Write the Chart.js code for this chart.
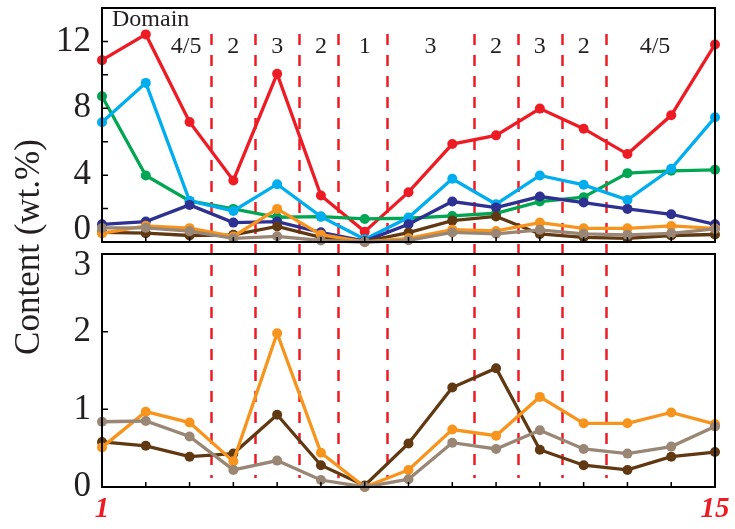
<!DOCTYPE html>
<html>
<head>
<meta charset="utf-8">
<script src="https://cdn.jsdelivr.net/npm/chart.js@4.4.0/dist/chart.umd.min.js"></script>
<style>
  html, body { margin: 0; padding: 0; background: #fff; }
  #wrap { position: relative; width: 735px; height: 529px; }
  #wrap canvas { position: absolute; left: 0; top: 0; }
</style>
</head>
<body>
<div id="wrap">
  <canvas id="topChart" width="735" height="529"></canvas>
  <canvas id="bottomChart" width="735" height="529"></canvas>
</div>
<script>
// positions along the profile
const positions = [1, 2, 3, 4, 5, 6, 7, 8, 9, 10, 11, 12, 13, 14, 15];

// content (wt.%) per element
const redVals    = [10.88, 12.42, 7.18, 3.68, 10.06, 2.78, 0.62, 2.98, 5.86, 6.38, 7.98, 6.78, 5.26, 7.58, 11.82];
const cyanVals   = [7.16, 9.52, 2.46, 1.86, 3.46, 1.52, 0.16, 1.46, 3.78, 2.26, 3.98, 3.42, 2.52, 4.38, 7.46];
const greenVals  = [8.72, 3.98, 2.46, 1.98, 1.48, 1.52, 1.38, 1.42, 1.56, 1.72, 2.42, 2.68, 4.12, 4.26, 4.32];
const navyVals   = [1.06, 1.22, 2.22, 1.16, 1.22, 0.58, 0.05, 1.06, 2.42, 2.06, 2.72, 2.36, 1.98, 1.66, 1.06];
const orangeVals = [0.51, 0.97, 0.83, 0.33, 1.98, 0.44, 0.0, 0.22, 0.74, 0.66, 1.16, 0.82, 0.82, 0.96, 0.81];
const brownVals  = [0.58, 0.53, 0.39, 0.43, 0.93, 0.28, 0.02, 0.56, 1.28, 1.53, 0.48, 0.28, 0.22, 0.39, 0.45];
const grayVals   = [0.84, 0.85, 0.65, 0.22, 0.34, 0.09, 0.0, 0.10, 0.57, 0.49, 0.73, 0.49, 0.43, 0.52, 0.78];

// domain boundaries and labels (x in position units)
const domainBounds = [3.5, 4.5, 5.5, 6.4, 7.5, 9.5, 10.5, 11.5, 12.5];
const domainNames  = ["4/5", "2", "3", "2", "1", "3", "2", "3", "2", "4/5"];
const domainAt     = [2.92, 4, 5, 6, 7, 8.5, 10, 11, 12, 13.63];

// axis ticks
const topTicks = [0, 4, 8, 12];
const topMinor = [2, 6, 10];
const bottomTicks = [0, 1, 2, 3];
const xEndLabels = ["1", "15"];
const xEndValues = [1, 15];

const INK = "#231f20";
const SERIF = "'Liberation Serif', 'Times New Roman', serif";

function series(vals, color) {
  return {
    data: positions.map((p, i) => ({ x: p, y: vals[i] })),
    borderColor: color,
    backgroundColor: color,
    borderWidth: 3.3,
    pointRadius: 5,
    pointBorderWidth: 0,
    pointBackgroundColor: color,
    tension: 0,
    clip: false
  };
}

// frame: box, inner ticks, y labels
const framePlugin = {
  id: "frame",
  afterDraw(chart, args, opts) {
    const ctx = chart.ctx;
    const a = chart.chartArea;
    const xs = chart.scales.x, ys = chart.scales.y;
    ctx.save();
    ctx.strokeStyle = "#000";
    ctx.lineWidth = 2;
    ctx.strokeRect(a.left, a.top, a.right - a.left, a.bottom - a.top);

    ctx.lineWidth = 1.5;
    ctx.beginPath();
    for (let v = 2; v <= 14; v++) {
      const px = xs.getPixelForValue(v);
      ctx.moveTo(px, a.bottom);
      ctx.lineTo(px, a.bottom - 5);
    }
    opts.ticks.concat(opts.minor || []).forEach(v => {
      const py = ys.getPixelForValue(v);
      if (py <= a.top + 1 || py >= a.bottom - 1) return;
      ctx.moveTo(a.left, py);
      ctx.lineTo(a.left + 6, py);
    });
    ctx.stroke();

    ctx.fillStyle = INK;
    ctx.font = "35px " + SERIF;
    ctx.textAlign = "right";
    ctx.textBaseline = "middle";
    opts.ticks.forEach(v => {
      let py = ys.getPixelForValue(v);
      if (opts.shift && opts.shift[v] !== undefined) py += opts.shift[v];
      ctx.fillText(String(v), a.left - 11, py);
    });
    ctx.restore();
  }
};

// red dashed domain boundaries, spanning both panels
const domainPlugin = {
  id: "domains",
  beforeDatasetsDraw(chart) {
    const ctx = chart.ctx;
    const xs = chart.scales.x, ys = chart.scales.y;
    ctx.save();
    ctx.strokeStyle = "#ed1c24";
    ctx.lineWidth = 2.5;
    ctx.setLineDash([11, 10]);
    domainBounds.forEach(b => {
      const px = Math.round(xs.getPixelForValue(b)) + 0.5;
      ctx.beginPath();
      ctx.moveTo(px, 34);
      ctx.lineTo(px, 478);
      ctx.stroke();
    });
    ctx.setLineDash([]);

    ctx.fillStyle = INK;
    ctx.font = "24px " + SERIF;
    ctx.textBaseline = "middle";
    ctx.textAlign = "left";
    ctx.fillText("Domain", xs.getPixelForValue(1) + 10, 20);
    ctx.textAlign = "center";
    domainNames.forEach((t, i) => {
      ctx.fillText(t, xs.getPixelForValue(domainAt[i]), ys.getPixelForValue(11.7));
    });

    // y axis title
    ctx.font = "35px " + SERIF;
    ctx.translate(30, 247);
    ctx.rotate(-Math.PI / 2);
    ctx.fillText("Content (wt.%)", 0, 0);
    ctx.restore();
  }
};

const endLabelPlugin = {
  id: "endLabels",
  afterDraw(chart) {
    const ctx = chart.ctx;
    const xs = chart.scales.x;
    ctx.save();
    ctx.fillStyle = "#ed1c24";
    ctx.font = "italic bold 29px " + SERIF;
    ctx.textAlign = "center";
    ctx.textBaseline = "middle";
    xEndLabels.forEach((t, i) => {
      ctx.fillText(t, xs.getPixelForValue(xEndValues[i]), 510);
    });
    ctx.restore();
  }
};

function baseOptions(pad, ymax, frameOpts) {
  return {
    responsive: false,
    animation: false,
    layout: { padding: pad },
    plugins: {
      legend: { display: false },
      tooltip: { enabled: false },
      frame: frameOpts
    },
    scales: {
      x: { type: "linear", min: 1, max: 15, display: false },
      y: { min: 0, max: ymax, display: false }
    }
  };
}

new Chart(document.getElementById("topChart"), {
  type: "line",
  data: {
    datasets: [
      series(grayVals, "#998675"),
      series(orangeVals, "#f7941d"),
      series(brownVals, "#603913"),
      series(navyVals, "#2e3192"),
      series(cyanVals, "#00aeef"),
      series(greenVals, "#00a651"),
      series(redVals, "#ed1c24")
    ]
  },
  options: baseOptions(
    { left: 102, right: 20, top: 8, bottom: 287 }, 14,
    { ticks: topTicks, minor: topMinor, shift: { 0: -12 } }
  ),
  plugins: [domainPlugin, framePlugin]
});

new Chart(document.getElementById("bottomChart"), {
  type: "line",
  data: {
    datasets: [
      series(grayVals, "#998675"),
      series(orangeVals, "#f7941d"),
      series(brownVals, "#603913")
    ]
  },
  options: baseOptions(
    { left: 102, right: 20, top: 254, bottom: 42 }, 3,
    { ticks: bottomTicks, shift: { 3: 12 } }
  ),
  plugins: [framePlugin, endLabelPlugin]
});
</script>
</body>
</html>
